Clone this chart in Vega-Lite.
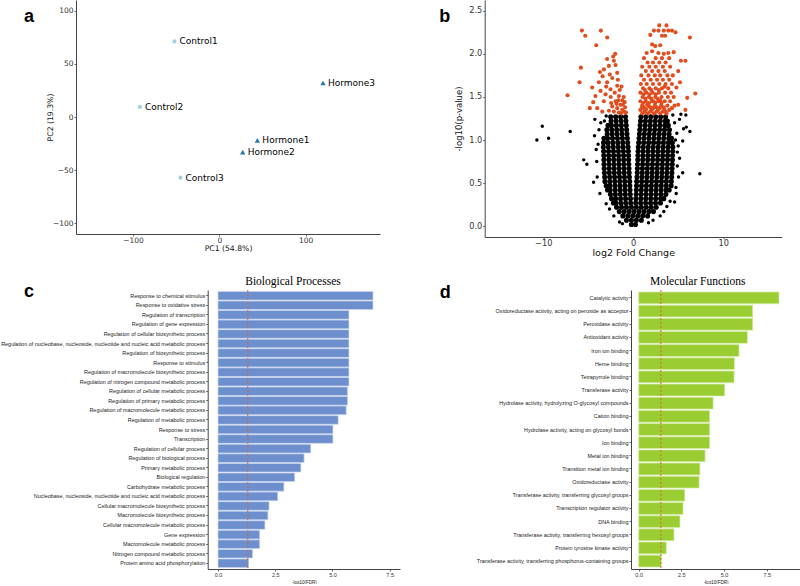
{
"$schema": "https://vega.github.io/schema/vega-lite/v6.json",
"background": "white",
"padding": 0,
"bounds": "full",
"spacing": 18,
"config": {
  "view": {"stroke": null},
  "axis": {"grid": false, "domainColor": "#444", "tickColor": "#444", "labelColor": "#333", "titleColor": "#111", "labelFont": "DejaVu Sans", "titleFont": "DejaVu Sans", "titleFontWeight": "normal", "domainWidth": 1, "tickWidth": 0.8}
},
"datasets": {
  "pca": [
    {"sample": "Control1", "group": "Control", "PC1": -52, "PC2": 71},
    {"sample": "Control2", "group": "Control", "PC1": -92, "PC2": 9.5},
    {"sample": "Control3", "group": "Control", "PC1": -45, "PC2": -57},
    {"sample": "Hormone1", "group": "Hormone", "PC1": 44, "PC2": -22},
    {"sample": "Hormone2", "group": "Hormone", "PC1": 27, "PC2": -33},
    {"sample": "Hormone3", "group": "Hormone", "PC1": 120, "PC2": 32}
  ],
  "nsCore": [
    {"lfc":-0.2,"nlp":0.02},{"lfc":0.25,"nlp":0.02},
    {"lfc":-0.75,"nlp":0.07},{"lfc":-0.2,"nlp":0.07},{"lfc":0.35,"nlp":0.07},{"lfc":0.9,"nlp":0.07},
    {"lfc":-1.15,"nlp":0.12},{"lfc":-0.6,"nlp":0.12},{"lfc":-0.05,"nlp":0.12},{"lfc":0.5,"nlp":0.12},{"lfc":1.05,"nlp":0.12},{"lfc":1.6,"nlp":0.12},
    {"lfc":-1.55,"nlp":0.17},{"lfc":-1.0,"nlp":0.17},{"lfc":-0.45,"nlp":0.17},{"lfc":0.1,"nlp":0.17},{"lfc":0.65,"nlp":0.17},{"lfc":1.2,"nlp":0.17},{"lfc":1.75,"nlp":0.17},{"lfc":2.25,"nlp":0.17},
    {"lfc":-1.85,"nlp":0.22},{"lfc":-1.3,"nlp":0.22},{"lfc":-0.75,"nlp":0.22},{"lfc":-0.2,"nlp":0.22},{"lfc":0.35,"nlp":0.22},{"lfc":0.9,"nlp":0.22},{"lfc":1.45,"nlp":0.22},{"lfc":2.0,"nlp":0.22},{"lfc":2.55,"nlp":0.22},
    {"lfc":-0.28,"nlp":0.27},{"lfc":-0.83,"nlp":0.27},{"lfc":-1.38,"nlp":0.27},{"lfc":-1.93,"nlp":0.27},{"lfc":-2.2,"nlp":0.27},{"lfc":0.28,"nlp":0.27},{"lfc":0.83,"nlp":0.27},{"lfc":1.38,"nlp":0.27},{"lfc":1.93,"nlp":0.27},{"lfc":2.48,"nlp":0.27},{"lfc":3.03,"nlp":0.27},
    {"lfc":-0.3,"nlp":0.32},{"lfc":-0.85,"nlp":0.32},{"lfc":-1.4,"nlp":0.32},{"lfc":-1.95,"nlp":0.32},{"lfc":-2.4,"nlp":0.32},{"lfc":0.3,"nlp":0.32},{"lfc":0.85,"nlp":0.32},{"lfc":1.4,"nlp":0.32},{"lfc":1.95,"nlp":0.32},{"lfc":2.5,"nlp":0.32},{"lfc":3.05,"nlp":0.32},{"lfc":3.4,"nlp":0.32},
    {"lfc":-0.33,"nlp":0.37},{"lfc":-0.88,"nlp":0.37},{"lfc":-1.43,"nlp":0.37},{"lfc":-1.98,"nlp":0.37},{"lfc":-2.53,"nlp":0.37},{"lfc":0.33,"nlp":0.37},{"lfc":0.88,"nlp":0.37},{"lfc":1.43,"nlp":0.37},{"lfc":1.98,"nlp":0.37},{"lfc":2.53,"nlp":0.37},{"lfc":3.08,"nlp":0.37},{"lfc":3.63,"nlp":0.37},
    {"lfc":-0.35,"nlp":0.42},{"lfc":-0.9,"nlp":0.42},{"lfc":-1.45,"nlp":0.42},{"lfc":-2.0,"nlp":0.42},{"lfc":-2.55,"nlp":0.42},{"lfc":-2.85,"nlp":0.42},{"lfc":0.35,"nlp":0.42},{"lfc":0.9,"nlp":0.42},{"lfc":1.45,"nlp":0.42},{"lfc":2.0,"nlp":0.42},{"lfc":2.55,"nlp":0.42},{"lfc":3.1,"nlp":0.42},{"lfc":3.65,"nlp":0.42},{"lfc":4.0,"nlp":0.42},
    {"lfc":-0.37,"nlp":0.47},{"lfc":-0.92,"nlp":0.47},{"lfc":-1.47,"nlp":0.47},{"lfc":-2.02,"nlp":0.47},{"lfc":-2.57,"nlp":0.47},{"lfc":-3.0,"nlp":0.47},{"lfc":0.37,"nlp":0.47},{"lfc":0.92,"nlp":0.47},{"lfc":1.47,"nlp":0.47},{"lfc":2.02,"nlp":0.47},{"lfc":2.57,"nlp":0.47},{"lfc":3.12,"nlp":0.47},{"lfc":3.67,"nlp":0.47},{"lfc":4.22,"nlp":0.47},
    {"lfc":-0.39,"nlp":0.52},{"lfc":-0.94,"nlp":0.52},{"lfc":-1.49,"nlp":0.52},{"lfc":-2.04,"nlp":0.52},{"lfc":-2.59,"nlp":0.52},{"lfc":-3.14,"nlp":0.52},{"lfc":0.39,"nlp":0.52},{"lfc":0.94,"nlp":0.52},{"lfc":1.49,"nlp":0.52},{"lfc":2.04,"nlp":0.52},{"lfc":2.59,"nlp":0.52},{"lfc":3.14,"nlp":0.52},{"lfc":3.69,"nlp":0.52},{"lfc":4.24,"nlp":0.52},
    {"lfc":-0.42,"nlp":0.57},{"lfc":-0.97,"nlp":0.57},{"lfc":-1.52,"nlp":0.57},{"lfc":-2.07,"nlp":0.57},{"lfc":-2.62,"nlp":0.57},{"lfc":-3.17,"nlp":0.57},{"lfc":0.42,"nlp":0.57},{"lfc":0.97,"nlp":0.57},{"lfc":1.52,"nlp":0.57},{"lfc":2.07,"nlp":0.57},{"lfc":2.62,"nlp":0.57},{"lfc":3.17,"nlp":0.57},{"lfc":3.72,"nlp":0.57},{"lfc":4.27,"nlp":0.57},
    {"lfc":-0.45,"nlp":0.62},{"lfc":-1.0,"nlp":0.62},{"lfc":-1.55,"nlp":0.62},{"lfc":-2.1,"nlp":0.62},{"lfc":-2.65,"nlp":0.62},{"lfc":-3.2,"nlp":0.62},{"lfc":0.45,"nlp":0.62},{"lfc":1.0,"nlp":0.62},{"lfc":1.55,"nlp":0.62},{"lfc":2.1,"nlp":0.62},{"lfc":2.65,"nlp":0.62},{"lfc":3.2,"nlp":0.62},{"lfc":3.75,"nlp":0.62},{"lfc":4.3,"nlp":0.62},
    {"lfc":-0.47,"nlp":0.67},{"lfc":-1.02,"nlp":0.67},{"lfc":-1.57,"nlp":0.67},{"lfc":-2.12,"nlp":0.67},{"lfc":-2.67,"nlp":0.67},{"lfc":-3.22,"nlp":0.67},{"lfc":0.47,"nlp":0.67},{"lfc":1.02,"nlp":0.67},{"lfc":1.57,"nlp":0.67},{"lfc":2.12,"nlp":0.67},{"lfc":2.67,"nlp":0.67},{"lfc":3.22,"nlp":0.67},{"lfc":3.77,"nlp":0.67},{"lfc":4.32,"nlp":0.67},
    {"lfc":-0.49,"nlp":0.72},{"lfc":-1.04,"nlp":0.72},{"lfc":-1.59,"nlp":0.72},{"lfc":-2.14,"nlp":0.72},{"lfc":-2.69,"nlp":0.72},{"lfc":-3.24,"nlp":0.72},{"lfc":0.49,"nlp":0.72},{"lfc":1.04,"nlp":0.72},{"lfc":1.59,"nlp":0.72},{"lfc":2.14,"nlp":0.72},{"lfc":2.69,"nlp":0.72},{"lfc":3.24,"nlp":0.72},{"lfc":3.79,"nlp":0.72},{"lfc":4.34,"nlp":0.72},
    {"lfc":-0.51,"nlp":0.77},{"lfc":-1.06,"nlp":0.77},{"lfc":-1.61,"nlp":0.77},{"lfc":-2.16,"nlp":0.77},{"lfc":-2.71,"nlp":0.77},{"lfc":-3.26,"nlp":0.77},{"lfc":0.51,"nlp":0.77},{"lfc":1.06,"nlp":0.77},{"lfc":1.61,"nlp":0.77},{"lfc":2.16,"nlp":0.77},{"lfc":2.71,"nlp":0.77},{"lfc":3.26,"nlp":0.77},{"lfc":3.81,"nlp":0.77},{"lfc":4.36,"nlp":0.77},
    {"lfc":-0.52,"nlp":0.82},{"lfc":-1.07,"nlp":0.82},{"lfc":-1.62,"nlp":0.82},{"lfc":-2.17,"nlp":0.82},{"lfc":-2.72,"nlp":0.82},{"lfc":-3.27,"nlp":0.82},{"lfc":0.52,"nlp":0.82},{"lfc":1.07,"nlp":0.82},{"lfc":1.62,"nlp":0.82},{"lfc":2.17,"nlp":0.82},{"lfc":2.72,"nlp":0.82},{"lfc":3.27,"nlp":0.82},{"lfc":3.82,"nlp":0.82},{"lfc":4.37,"nlp":0.82},
    {"lfc":-0.54,"nlp":0.87},{"lfc":-1.09,"nlp":0.87},{"lfc":-1.64,"nlp":0.87},{"lfc":-2.19,"nlp":0.87},{"lfc":-2.74,"nlp":0.87},{"lfc":-3.29,"nlp":0.87},{"lfc":0.54,"nlp":0.87},{"lfc":1.09,"nlp":0.87},{"lfc":1.64,"nlp":0.87},{"lfc":2.19,"nlp":0.87},{"lfc":2.74,"nlp":0.87},{"lfc":3.29,"nlp":0.87},{"lfc":3.84,"nlp":0.87},{"lfc":4.39,"nlp":0.87},
    {"lfc":-0.57,"nlp":0.92},{"lfc":-1.12,"nlp":0.92},{"lfc":-1.67,"nlp":0.92},{"lfc":-2.22,"nlp":0.92},{"lfc":-2.77,"nlp":0.92},{"lfc":-3.32,"nlp":0.92},{"lfc":0.57,"nlp":0.92},{"lfc":1.12,"nlp":0.92},{"lfc":1.67,"nlp":0.92},{"lfc":2.22,"nlp":0.92},{"lfc":2.77,"nlp":0.92},{"lfc":3.32,"nlp":0.92},{"lfc":3.87,"nlp":0.92},{"lfc":4.4,"nlp":0.92},
    {"lfc":-0.61,"nlp":0.97},{"lfc":-1.16,"nlp":0.97},{"lfc":-1.71,"nlp":0.97},{"lfc":-2.26,"nlp":0.97},{"lfc":-2.81,"nlp":0.97},{"lfc":-3.3,"nlp":0.97},{"lfc":0.61,"nlp":0.97},{"lfc":1.16,"nlp":0.97},{"lfc":1.71,"nlp":0.97},{"lfc":2.26,"nlp":0.97},{"lfc":2.81,"nlp":0.97},{"lfc":3.36,"nlp":0.97},{"lfc":3.91,"nlp":0.97},{"lfc":4.35,"nlp":0.97},
    {"lfc":-0.65,"nlp":1.02},{"lfc":-1.2,"nlp":1.02},{"lfc":-1.75,"nlp":1.02},{"lfc":-2.3,"nlp":1.02},{"lfc":-2.85,"nlp":1.02},{"lfc":-3.25,"nlp":1.02},{"lfc":0.65,"nlp":1.02},{"lfc":1.2,"nlp":1.02},{"lfc":1.75,"nlp":1.02},{"lfc":2.3,"nlp":1.02},{"lfc":2.85,"nlp":1.02},{"lfc":3.4,"nlp":1.02},{"lfc":3.95,"nlp":1.02},{"lfc":4.25,"nlp":1.02},
    {"lfc":-0.69,"nlp":1.07},{"lfc":-1.24,"nlp":1.07},{"lfc":-1.79,"nlp":1.07},{"lfc":-2.34,"nlp":1.07},{"lfc":-2.89,"nlp":1.07},{"lfc":0.69,"nlp":1.07},{"lfc":1.24,"nlp":1.07},{"lfc":1.79,"nlp":1.07},{"lfc":2.34,"nlp":1.07},{"lfc":2.89,"nlp":1.07},{"lfc":3.44,"nlp":1.07},{"lfc":3.99,"nlp":1.07},
    {"lfc":-0.73,"nlp":1.12},{"lfc":-1.28,"nlp":1.12},{"lfc":-1.83,"nlp":1.12},{"lfc":-2.38,"nlp":1.12},{"lfc":-2.93,"nlp":1.12},{"lfc":0.73,"nlp":1.12},{"lfc":1.28,"nlp":1.12},{"lfc":1.83,"nlp":1.12},{"lfc":2.38,"nlp":1.12},{"lfc":2.93,"nlp":1.12},{"lfc":3.48,"nlp":1.12},{"lfc":4.03,"nlp":1.12},
    {"lfc":-0.77,"nlp":1.17},{"lfc":-1.32,"nlp":1.17},{"lfc":-1.87,"nlp":1.17},{"lfc":-2.42,"nlp":1.17},{"lfc":-2.8,"nlp":1.17},{"lfc":0.77,"nlp":1.17},{"lfc":1.32,"nlp":1.17},{"lfc":1.87,"nlp":1.17},{"lfc":2.42,"nlp":1.17},{"lfc":2.97,"nlp":1.17},{"lfc":3.52,"nlp":1.17},{"lfc":3.9,"nlp":1.17},
    {"lfc":-0.81,"nlp":1.22},{"lfc":-1.36,"nlp":1.22},{"lfc":-1.91,"nlp":1.22},{"lfc":-2.46,"nlp":1.22},{"lfc":0.81,"nlp":1.22},{"lfc":1.36,"nlp":1.22},{"lfc":1.91,"nlp":1.22},{"lfc":2.46,"nlp":1.22},{"lfc":3.01,"nlp":1.22},{"lfc":3.56,"nlp":1.22},{"lfc":3.8,"nlp":1.22},
    {"lfc":-0.85,"nlp":1.27},{"lfc":-1.4,"nlp":1.27},{"lfc":-1.95,"nlp":1.27},{"lfc":-2.5,"nlp":1.27},{"lfc":0.85,"nlp":1.27},{"lfc":1.4,"nlp":1.27},{"lfc":1.95,"nlp":1.27},{"lfc":2.5,"nlp":1.27},{"lfc":3.05,"nlp":1.27},{"lfc":3.6,"nlp":1.27}
  ],
  "nsSparse": [
    {"lfc":-10.7,"nlp":1.0},{"lfc":-10.1,"nlp":1.16},{"lfc":-9.4,"nlp":1.02},{"lfc":-7.0,"nlp":1.1},{"lfc":-5.5,"nlp":0.77},{"lfc":-5.15,"nlp":0.72},{"lfc":-4.05,"nlp":0.75},{"lfc":-4.4,"nlp":0.51},{"lfc":-4.11,"nlp":0.89},{"lfc":-3.8,"nlp":1.12},{"lfc":-4.26,"nlp":1.24},{"lfc":-3.6,"nlp":1.2},{"lfc":-4.0,"nlp":0.57},{"lfc":-3.7,"nlp":0.38},{"lfc":-3.0,"nlp":0.26},{"lfc":-2.63,"nlp":0.2},{"lfc":-2.15,"nlp":0.12},{"lfc":-1.52,"nlp":0.05},{"lfc":-3.9,"nlp":0.95},{"lfc":-4.3,"nlp":1.05},{"lfc":-3.0,"nlp":1.28},{"lfc":-3.2,"nlp":1.22},
    {"lfc":7.4,"nlp":0.61},{"lfc":5.5,"nlp":0.62},{"lfc":5.9,"nlp":1.15},{"lfc":6.3,"nlp":1.1},{"lfc":5.85,"nlp":1.29},{"lfc":5.15,"nlp":1.24},{"lfc":5.6,"nlp":1.13},{"lfc":4.85,"nlp":1.08},{"lfc":5.5,"nlp":0.99},{"lfc":5.0,"nlp":0.93},{"lfc":5.15,"nlp":0.79},{"lfc":4.9,"nlp":0.7},{"lfc":5.04,"nlp":0.57},{"lfc":4.75,"nlp":0.45},{"lfc":4.78,"nlp":0.38},{"lfc":4.1,"nlp":0.29},{"lfc":3.74,"nlp":0.23},{"lfc":3.4,"nlp":0.17},{"lfc":3.0,"nlp":0.12},{"lfc":2.2,"nlp":0.07},{"lfc":4.6,"nlp":1.2},{"lfc":4.4,"nlp":1.29},{"lfc":4.6,"nlp":0.28},{"lfc":4.9,"nlp":0.86},{"lfc":4.7,"nlp":1.0},{"lfc":5.3,"nlp":1.3},{"lfc":1.7,"nlp":0.04},{"lfc":-1.2,"nlp":0.03}
  ],
  "sig": [
    {"lfc":-5.7,"nlp":2.27},{"lfc":-5.33,"nlp":2.21},{"lfc":-3.59,"nlp":2.27},{"lfc":-2.89,"nlp":2.19},{"lfc":-4.11,"nlp":2.1},{"lfc":-2.0,"nlp":2.0},{"lfc":-2.22,"nlp":1.97},{"lfc":-2.9,"nlp":1.94},{"lfc":-2.15,"nlp":1.92},{"lfc":-3.7,"nlp":1.79},{"lfc":-3.26,"nlp":1.82},{"lfc":-2.7,"nlp":1.86},{"lfc":-1.96,"nlp":1.87},{"lfc":-1.78,"nlp":1.78},{"lfc":-2.33,"nlp":1.72},{"lfc":-3.63,"nlp":1.57},{"lfc":-4.19,"nlp":1.51},{"lfc":-4.44,"nlp":1.44},{"lfc":-4.0,"nlp":1.37},{"lfc":-3.26,"nlp":1.45},{"lfc":-3.07,"nlp":1.53},{"lfc":-2.52,"nlp":1.59},{"lfc":-1.78,"nlp":1.63},{"lfc":-1.59,"nlp":1.51},{"lfc":-1.96,"nlp":1.45},{"lfc":-2.33,"nlp":1.39},{"lfc":-1.78,"nlp":1.37},{"lfc":-1.41,"nlp":1.41},{"lfc":-1.22,"nlp":1.35},{"lfc":-1.59,"nlp":1.32},{"lfc":-2.15,"nlp":1.33},{"lfc":-2.7,"nlp":1.34},{"lfc":-3.44,"nlp":1.33},{"lfc":-2.89,"nlp":1.67},{"lfc":-3.81,"nlp":1.67},{"lfc":-5.81,"nlp":1.84},{"lfc":-5.96,"nlp":1.67},{"lfc":-7.3,"nlp":1.52},{"lfc":-4.56,"nlp":1.61},{"lfc":-4.82,"nlp":1.37},{"lfc":-1.0,"nlp":1.33},{"lfc":-0.9,"nlp":1.38},{"lfc":-1.2,"nlp":1.46},{"lfc":-1.5,"nlp":1.58},{"lfc":-1.3,"nlp":1.62},{"lfc":-1.05,"nlp":1.5},{"lfc":-2.5,"nlp":1.5},{"lfc":-2.05,"nlp":1.55},{"lfc":-2.6,"nlp":1.76},{"lfc":-3.0,"nlp":1.62},{"lfc":-1.7,"nlp":1.7},{"lfc":-3.4,"nlp":1.74},{"lfc":-1.35,"nlp":1.31},{"lfc":-0.8,"nlp":1.32},{"lfc":-1.85,"nlp":1.42},{"lfc":-2.45,"nlp":1.43},{"lfc":-1.15,"nlp":1.41},{"lfc":-1.65,"nlp":1.46},{"lfc":-0.95,"nlp":1.44},
    {"lfc":2.9,"nlp":2.33},{"lfc":3.7,"nlp":2.33},{"lfc":2.3,"nlp":2.27},{"lfc":2.8,"nlp":2.27},{"lfc":3.4,"nlp":2.27},{"lfc":3.9,"nlp":2.27},{"lfc":4.3,"nlp":2.27},{"lfc":4.7,"nlp":2.25},{"lfc":6.3,"nlp":2.19},{"lfc":3.2,"nlp":2.21},{"lfc":3.55,"nlp":2.21},{"lfc":1.9,"nlp":2.22},{"lfc":2.1,"nlp":2.11},{"lfc":2.45,"nlp":2.09},{"lfc":3.0,"nlp":2.1},{"lfc":1.5,"nlp":2.01},{"lfc":2.1,"nlp":2.03},{"lfc":2.8,"nlp":2.01},{"lfc":3.4,"nlp":2.0},{"lfc":3.9,"nlp":2.01},{"lfc":4.5,"nlp":2.02},{"lfc":5.3,"nlp":1.92},{"lfc":5.8,"nlp":1.92},{"lfc":5.0,"nlp":1.8},{"lfc":5.2,"nlp":1.67},{"lfc":6.9,"nlp":1.54},{"lfc":4.8,"nlp":1.61},{"lfc":6.0,"nlp":1.49},{"lfc":5.8,"nlp":1.35},{"lfc":5.0,"nlp":1.41},{"lfc":4.3,"nlp":1.37},
    {"lfc":1.2,"nlp":1.95},{"lfc":2.5,"nlp":1.95},{"lfc":3.2,"nlp":1.95},{"lfc":4.0,"nlp":1.95},
    {"lfc":1.6,"nlp":1.9},{"lfc":2.2,"nlp":1.9},{"lfc":2.9,"nlp":1.9},{"lfc":3.6,"nlp":1.9},
    {"lfc":1.0,"nlp":1.85},{"lfc":1.8,"nlp":1.85},{"lfc":2.5,"nlp":1.85},{"lfc":3.3,"nlp":1.85},{"lfc":4.1,"nlp":1.85},
    {"lfc":1.4,"nlp":1.8},{"lfc":2.1,"nlp":1.8},{"lfc":2.8,"nlp":1.8},{"lfc":3.5,"nlp":1.8},
    {"lfc":0.9,"nlp":1.75},{"lfc":1.7,"nlp":1.75},{"lfc":2.4,"nlp":1.75},{"lfc":3.0,"nlp":1.75},{"lfc":3.8,"nlp":1.75},{"lfc":4.4,"nlp":1.75},
    {"lfc":1.2,"nlp":1.7},{"lfc":1.95,"nlp":1.7},{"lfc":2.65,"nlp":1.7},{"lfc":3.3,"nlp":1.7},{"lfc":4.0,"nlp":1.7},
    {"lfc":0.85,"nlp":1.65},{"lfc":1.5,"nlp":1.65},{"lfc":2.2,"nlp":1.65},{"lfc":2.9,"nlp":1.65},{"lfc":3.6,"nlp":1.65},{"lfc":4.3,"nlp":1.65},
    {"lfc":1.1,"nlp":1.6},{"lfc":1.8,"nlp":1.6},{"lfc":2.5,"nlp":1.6},{"lfc":3.2,"nlp":1.6},{"lfc":3.9,"nlp":1.6},
    {"lfc":0.8,"nlp":1.55},{"lfc":1.45,"nlp":1.55},{"lfc":2.15,"nlp":1.55},{"lfc":2.85,"nlp":1.55},{"lfc":3.55,"nlp":1.55},{"lfc":4.2,"nlp":1.55},
    {"lfc":1.05,"nlp":1.5},{"lfc":1.75,"nlp":1.5},{"lfc":2.45,"nlp":1.5},{"lfc":3.15,"nlp":1.5},{"lfc":3.85,"nlp":1.5},{"lfc":4.5,"nlp":1.5},
    {"lfc":0.8,"nlp":1.45},{"lfc":1.4,"nlp":1.45},{"lfc":2.1,"nlp":1.45},{"lfc":2.8,"nlp":1.45},{"lfc":3.5,"nlp":1.45},{"lfc":4.1,"nlp":1.45},
    {"lfc":1.0,"nlp":1.4},{"lfc":1.7,"nlp":1.4},{"lfc":2.4,"nlp":1.4},{"lfc":3.1,"nlp":1.4},{"lfc":3.8,"nlp":1.4},{"lfc":4.6,"nlp":1.4},
    {"lfc":0.8,"nlp":1.35},{"lfc":1.35,"nlp":1.35},{"lfc":2.05,"nlp":1.35},{"lfc":2.75,"nlp":1.35},{"lfc":3.45,"nlp":1.35},{"lfc":4.0,"nlp":1.35},
    {"lfc":1.0,"nlp":1.31},{"lfc":1.6,"nlp":1.31},{"lfc":2.3,"nlp":1.31},{"lfc":3.0,"nlp":1.31},{"lfc":3.7,"nlp":1.31},
    {"lfc":1.25,"nlp":1.33},{"lfc":1.9,"nlp":1.33},{"lfc":2.6,"nlp":1.33},{"lfc":3.3,"nlp":1.33},
    {"lfc":1.2,"nlp":1.38},{"lfc":1.9,"nlp":1.38},{"lfc":2.6,"nlp":1.38},{"lfc":3.4,"nlp":1.38},
    {"lfc":1.1,"nlp":1.43},{"lfc":1.75,"nlp":1.43},{"lfc":2.45,"nlp":1.43},{"lfc":3.15,"nlp":1.43},
    {"lfc":1.35,"nlp":1.48},{"lfc":2.0,"nlp":1.48},{"lfc":2.7,"nlp":1.48},
    {"lfc":1.15,"nlp":1.53},{"lfc":1.8,"nlp":1.53},{"lfc":2.5,"nlp":1.53},
    {"lfc":1.3,"nlp":1.58},{"lfc":2.0,"nlp":1.58},{"lfc":2.85,"nlp":1.58},{"lfc":3.5,"nlp":1.62},
    {"lfc":1.45,"nlp":1.36},{"lfc":2.2,"nlp":1.37},{"lfc":2.95,"nlp":1.37},{"lfc":3.6,"nlp":1.33},
    {"lfc":0.95,"nlp":1.37},{"lfc":1.55,"nlp":1.41},{"lfc":2.25,"nlp":1.45},{"lfc":3.0,"nlp":1.46}
  ],
  "bp": [
    {"term":"Response to chemical stimulus","v":6.77},
    {"term":"Response to oxidative stress","v":6.77},
    {"term":"Regulation of transcription","v":5.72},
    {"term":"Regulation of gene expression","v":5.72},
    {"term":"Regulation of cellular biosynthetic process","v":5.72},
    {"term":"Regulation of nucleobase, nucleoside, nucleotide and nucleic acid metabolic process","v":5.72},
    {"term":"Regulation of biosynthetic process","v":5.72},
    {"term":"Response to stimulus","v":5.72},
    {"term":"Regulation of macromolecule biosynthetic process","v":5.72},
    {"term":"Regulation of nitrogen compound metabolic process","v":5.72},
    {"term":"Regulation of cellular metabolic process","v":5.66},
    {"term":"Regulation of primary metabolic process","v":5.66},
    {"term":"Regulation of macromolecule metabolic process","v":5.6},
    {"term":"Regulation of metabolic process","v":5.25},
    {"term":"Response to stress","v":5.02},
    {"term":"Transcription","v":5.02},
    {"term":"Regulation of cellular process","v":4.05},
    {"term":"Regulation of biological process","v":3.76},
    {"term":"Primary metabolic process","v":3.62},
    {"term":"Biological regulation","v":3.35},
    {"term":"Carbohydrate metabolic process","v":2.88},
    {"term":"Nucleobase, nucleoside, nucleotide and nucleic acid metabolic process","v":2.61},
    {"term":"Cellular macromolecule biosynthetic process","v":2.23},
    {"term":"Macromolecule biosynthetic process","v":2.18},
    {"term":"Cellular macromolecule metabolic process","v":2.05},
    {"term":"Gene expression","v":1.82},
    {"term":"Macromolecule metabolic process","v":1.82},
    {"term":"Nitrogen compound metabolic process","v":1.51},
    {"term":"Protein amino acid phosphorylation","v":1.34}
  ],
  "mf": [
    {"term":"Catalytic activity","v":8.22},
    {"term":"Oxidoreductase activity, acting on peroxide as acceptor","v":6.68},
    {"term":"Peroxidase activity","v":6.68},
    {"term":"Antioxidant activity","v":6.37},
    {"term":"Iron ion binding","v":5.88},
    {"term":"Heme binding","v":5.61},
    {"term":"Tetrapyrrole binding","v":5.59},
    {"term":"Transferase activity","v":5.04},
    {"term":"Hydrolase activity, hydrolyzing O-glycosyl compounds","v":4.36},
    {"term":"Cation binding","v":4.16},
    {"term":"Hydrolase activity, acting on glycosyl bonds","v":4.16},
    {"term":"Ion binding","v":4.16},
    {"term":"Metal ion binding","v":3.89},
    {"term":"Transition metal ion binding","v":3.59},
    {"term":"Oxidoreductase activity","v":3.54},
    {"term":"Transferase activity, transferring glycosyl groups","v":2.7},
    {"term":"Transcription regulator activity","v":2.6},
    {"term":"DNA binding","v":2.42},
    {"term":"Transferase activity, transferring hexosyl groups","v":2.07},
    {"term":"Protein tyrosine kinase activity","v":1.62},
    {"term":"Transferase activity, transferring phosphorus-containing groups","v":1.33}
  ],
  "cut": [{"t": 1.3}],
  "labA": [{"panel": "a"}],
  "labB": [{"panel": "b"}],
  "labC": [{"panel": "c"}],
  "labD": [{"panel": "d"}],
  "ttlC": [{"ttl": "Biological Processes"}],
  "ttlD": [{"ttl": "Molecular Functions"}]
},
"vconcat": [
  {
    "hconcat": [
      {
        "width": 304, "height": 234,
        "layer": [
          {"data": {"name": "pca"},
           "mark": {"type": "point", "filled": true, "opacity": 1},
           "encoding": {
             "x": {"field": "PC1", "type": "quantitative", "scale": {"domain": [-166, 186], "nice": false, "zero": false}, "axis": {"values": [-100, 0, 100], "title": "PC1 (54.8%)", "labelFontSize": 7.5, "titleFontSize": 7.7, "tickSize": 2, "labelPadding": 0.5, "titlePadding": 0.5}},
             "y": {"field": "PC2", "type": "quantitative", "scale": {"domain": [-110, 110], "nice": false, "zero": false}, "axis": {"values": [-100, -50, 0, 50, 100], "title": "PC2 (19.3%)", "labelFontSize": 7.5, "titleFontSize": 7.7, "tickSize": 2, "labelPadding": 1, "minExtent": 76, "maxExtent": 76, "titleX": -22, "titleY": 117}},
             "color": {"field": "group", "type": "nominal", "scale": {"domain": ["Control", "Hormone"], "range": ["#a6cee3", "#1f78b4"]}, "legend": null},
             "shape": {"field": "group", "type": "nominal", "scale": {"domain": ["Control", "Hormone"], "range": ["circle", "triangle-up"]}, "legend": null},
             "size": {"field": "group", "type": "nominal", "scale": {"domain": ["Control", "Hormone"], "range": [18, 28]}, "legend": null}
           }},
          {"data": {"name": "pca"},
           "mark": {"type": "text", "align": "left", "baseline": "middle", "dx": 5, "font": "DejaVu Sans", "fontSize": 9, "color": "#000"},
           "encoding": {
             "x": {"field": "PC1", "type": "quantitative", "scale": {"domain": [-166, 186], "nice": false, "zero": false}},
             "y": {"field": "PC2", "type": "quantitative", "scale": {"domain": [-110, 110], "nice": false, "zero": false}},
             "text": {"field": "sample", "type": "nominal"}}},
          {"data": {"name": "labA"},
           "mark": {"type": "text", "align": "left", "baseline": "bottom", "font": "Liberation Sans", "fontSize": 18, "fontWeight": "bold", "color": "#000", "dx": -52, "dy": 26},
           "encoding": {"x": {"datum": -166, "type": "quantitative"}, "y": {"datum": 110, "type": "quantitative"}, "text": {"field": "panel", "type": "nominal"}}}
        ]
      },
      {
        "width": 297, "height": 237,
        "layer": [
          {"data": {"name": "nsCore"}, "mark": {"type": "point", "filled": true, "color": "#000", "size": 26, "opacity": 1},
           "encoding": {
             "x": {"field": "lfc", "type": "quantitative", "scale": {"domain": [-16.5, 16.5], "nice": false, "zero": false}, "axis": {"values": [-10, 0, 10], "title": "log2 Fold Change", "labelFontSize": 8.2, "titleFontSize": 9.5, "tickSize": 2, "labelPadding": 0.5, "titlePadding": 0.5}},
             "y": {"field": "nlp", "type": "quantitative", "scale": {"domain": [-0.125, 2.625], "nice": false, "zero": false}, "axis": {"values": [0, 0.5, 1, 1.5, 2, 2.5], "format": ".1f", "title": "-log10(p-value)", "labelFontSize": 8.2, "titleFontSize": 8.5, "tickSize": 2, "labelPadding": 1, "minExtent": 65.8, "maxExtent": 65.8, "titleX": -21, "titleY": 118.5}}
           }},
          {"data": {"name": "nsSparse"}, "mark": {"type": "point", "filled": true, "color": "#000", "size": 12, "opacity": 1},
           "encoding": {
             "x": {"field": "lfc", "type": "quantitative", "scale": {"domain": [-16.5, 16.5], "nice": false, "zero": false}},
             "y": {"field": "nlp", "type": "quantitative", "scale": {"domain": [-0.125, 2.625], "nice": false, "zero": false}}
           }},
          {"data": {"name": "sig"}, "mark": {"type": "point", "filled": true, "color": "#e14d1f", "size": 17, "opacity": 1},
           "encoding": {
             "x": {"field": "lfc", "type": "quantitative", "scale": {"domain": [-16.5, 16.5], "nice": false, "zero": false}},
             "y": {"field": "nlp", "type": "quantitative", "scale": {"domain": [-0.125, 2.625], "nice": false, "zero": false}}
           }},
          {"data": {"name": "labB"},
           "mark": {"type": "text", "align": "left", "baseline": "bottom", "font": "Liberation Sans", "fontSize": 18, "fontWeight": "bold", "color": "#000", "dx": -45.5, "dy": 26},
           "encoding": {"x": {"datum": -16.5, "type": "quantitative"}, "y": {"datum": 2.625, "type": "quantitative"}, "text": {"field": "panel", "type": "nominal"}}}
        ]
      }
    ],
    "spacing": 38.7
  },
  {
    "hconcat": [
      {
        "width": 324, "height": 279,
        "layer": [
          {"data": {"name": "bp"},
           "mark": {"type": "bar", "color": "#6d8fcd", "stroke": "#c8d5ef", "strokeWidth": 0.7},
           "encoding": {
             "x": {"field": "v", "type": "quantitative", "scale": {"domain": [-0.45, 7.95], "range": [131.7, 324], "nice": false, "zero": false}, "axis": {"values": [0, 2.5, 5, 7.5], "format": ".1f", "title": "-log10(FDR)", "labelFont": "Liberation Sans", "titleFont": "Liberation Sans", "labelFontSize": 5.5, "titleFontSize": 4.5, "tickSize": 2, "labelPadding": 1.5, "titlePadding": 1.5}},
             "y": {"field": "term", "type": "nominal", "sort": null, "scale": {"paddingInner": 0.1, "paddingOuter": 0.15}, "axis": {"title": null, "offset": -131.7, "labelFont": "Liberation Sans", "labelFontSize": 5.45, "labelColor": "#222", "labelLimit": 400, "tickSize": 2, "labelPadding": 1, "minExtent": 207.7, "maxExtent": 207.7}}
           }},
          {"data": {"name": "cut"},
           "mark": {"type": "rule", "color": "#d9603b", "strokeDash": [2, 2], "strokeWidth": 1},
           "encoding": {"x": {"field": "t", "type": "quantitative", "scale": {"domain": [-0.45, 7.95], "range": [131.7, 324], "nice": false, "zero": false}}}},
          {"data": {"name": "labC"},
           "mark": {"type": "text", "align": "left", "baseline": "bottom", "font": "Liberation Sans", "fontSize": 18, "fontWeight": "bold", "color": "#000", "dx": -183.7, "dy": 5},
           "encoding": {"x": {"datum": -0.45, "type": "quantitative"}, "y": {"datum": "Response to chemical stimulus", "type": "nominal"}, "text": {"field": "panel", "type": "nominal"}}},
          {"data": {"name": "ttlC"},
           "mark": {"type": "text", "align": "center", "baseline": "alphabetic", "font": "Liberation Serif", "fontSize": 11.5, "color": "#000", "dx": 85.3, "dy": -10.7},
           "encoding": {"x": {"datum": -0.45, "type": "quantitative"}, "y": {"datum": "Response to chemical stimulus", "type": "nominal"}, "text": {"field": "ttl", "type": "nominal"}}}
        ]
      },
      {
        "width": 169, "height": 279,
        "layer": [
          {"data": {"name": "mf"},
           "mark": {"type": "bar", "color": "#9acd32", "stroke": "#d8ecb0", "strokeWidth": 0.7},
           "encoding": {
             "x": {"field": "v", "type": "quantitative", "scale": {"domain": [-0.45, 9.45], "nice": false, "zero": false}, "axis": {"values": [0, 2.5, 5, 7.5], "format": ".1f", "title": "-log10(FDR)", "labelFont": "Liberation Sans", "titleFont": "Liberation Sans", "labelFontSize": 5.5, "titleFontSize": 4.5, "tickSize": 2, "labelPadding": 1.5, "titlePadding": 1.5}},
             "y": {"field": "term", "type": "nominal", "sort": null, "scale": {"paddingInner": 0.1, "paddingOuter": 0.15}, "axis": {"title": null, "labelFont": "Liberation Sans", "labelFontSize": 5.45, "labelColor": "#222", "labelLimit": 400, "tickSize": 2, "labelPadding": 1, "minExtent": 191.3, "maxExtent": 191.3}}
           }},
          {"data": {"name": "cut"},
           "mark": {"type": "rule", "color": "#d9603b", "strokeDash": [2, 2], "strokeWidth": 1},
           "encoding": {"x": {"field": "t", "type": "quantitative", "scale": {"domain": [-0.45, 9.45], "nice": false, "zero": false}}}},
          {"data": {"name": "labD"},
           "mark": {"type": "text", "align": "left", "baseline": "bottom", "font": "Liberation Sans", "fontSize": 18, "fontWeight": "bold", "color": "#000", "dx": -191.3, "dy": 4},
           "encoding": {"x": {"datum": -0.45, "type": "quantitative"}, "y": {"datum": "Catalytic activity", "type": "nominal"}, "text": {"field": "panel", "type": "nominal"}}},
          {"data": {"name": "ttlD"},
           "mark": {"type": "text", "align": "center", "baseline": "alphabetic", "font": "Liberation Serif", "fontSize": 11.5, "color": "#000", "dx": 66.7, "dy": -12.9},
           "encoding": {"x": {"datum": -0.45, "type": "quantitative"}, "y": {"datum": "Catalytic activity", "type": "nominal"}, "text": {"field": "ttl", "type": "nominal"}}}
        ]
      }
    ],
    "spacing": 39
  }
]
}
